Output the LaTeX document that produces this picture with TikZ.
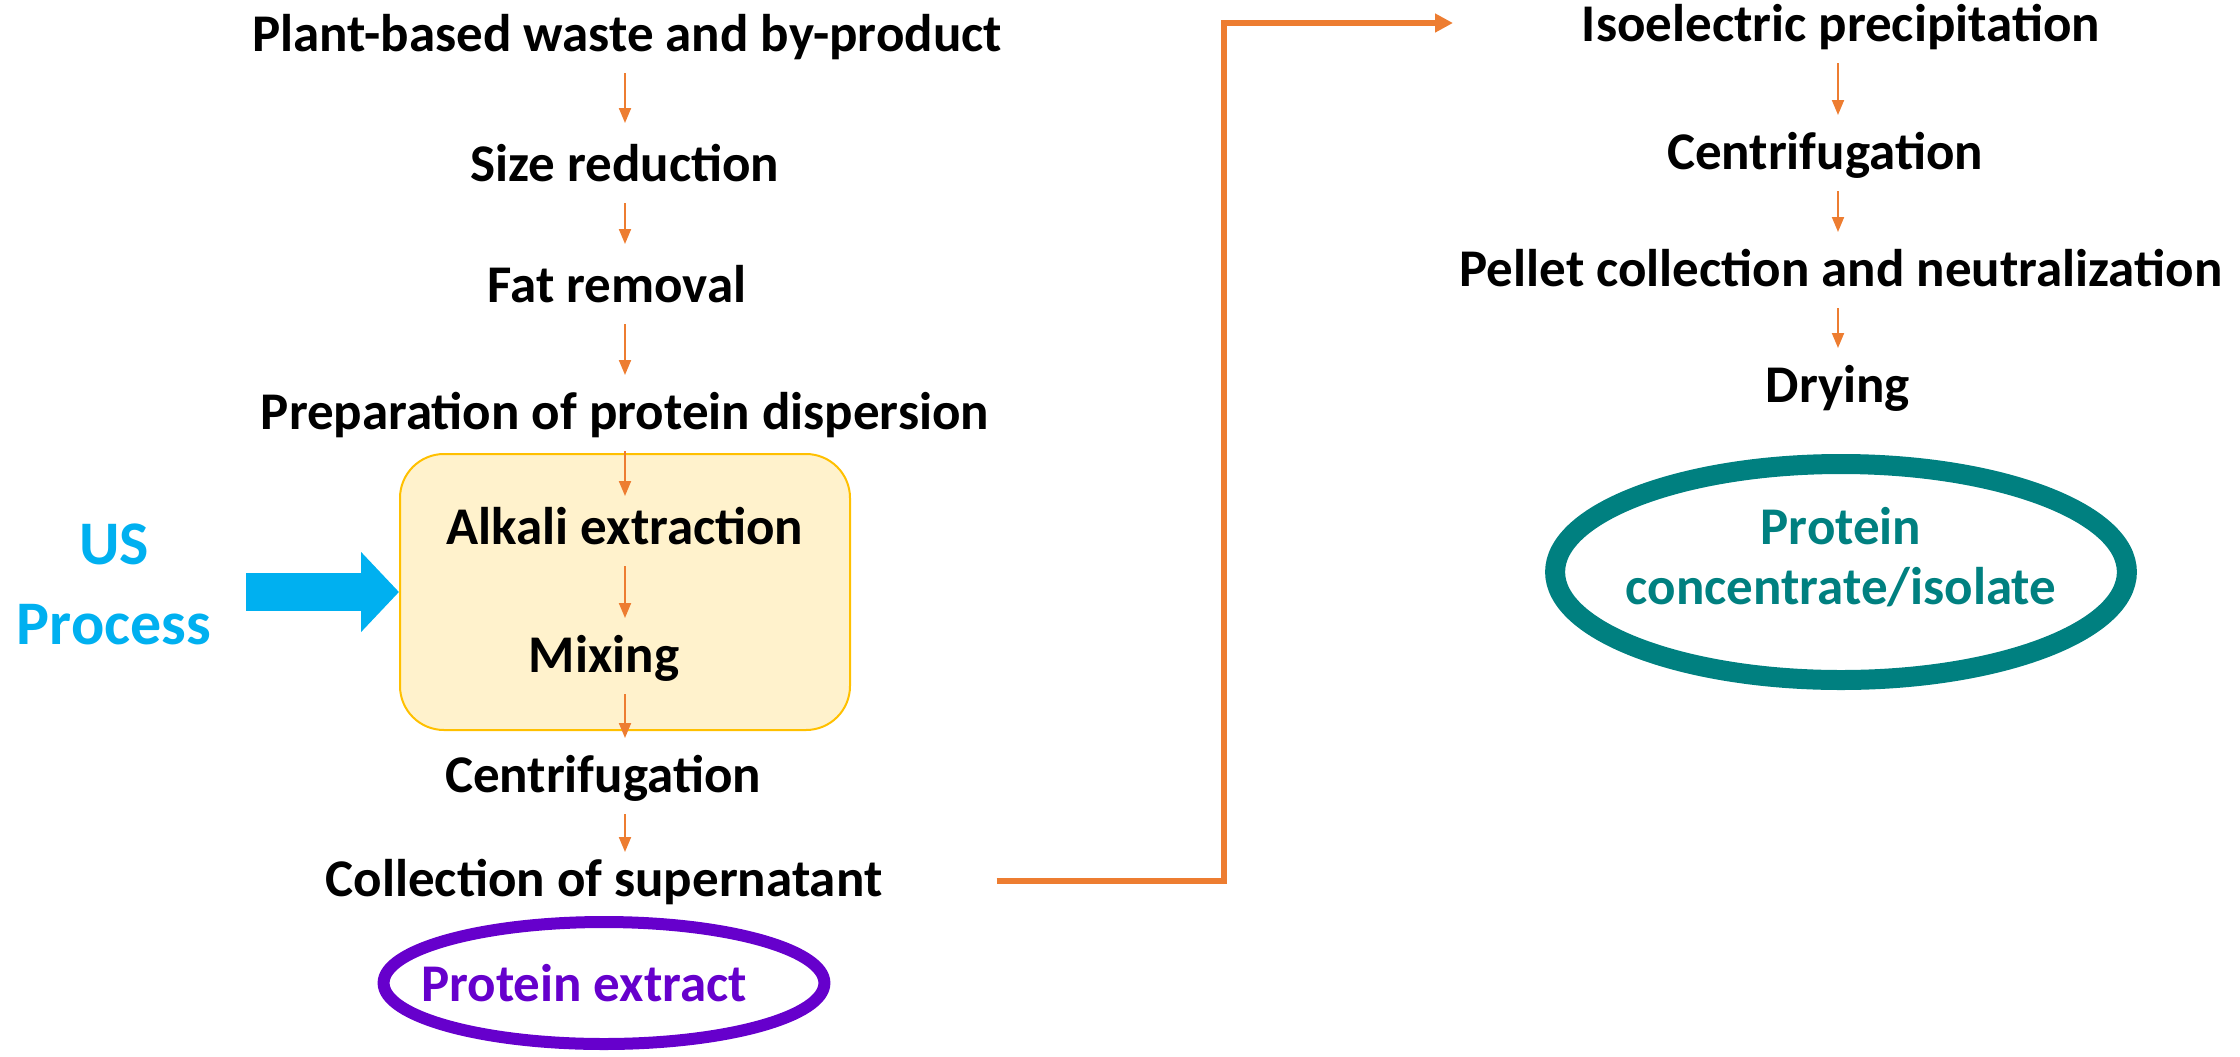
\documentclass[tikz,border=0pt]{standalone}
\usepackage{fontspec}
\setmainfont{Carlito}
\usetikzlibrary{shapes.geometric, arrows.meta, positioning, backgrounds, calc}
\definecolor{colorArrow}{HTML}{ED7D31}
\definecolor{colorBoxFill}{HTML}{FFF2CC}
\definecolor{colorBoxLine}{HTML}{FFC000}
\definecolor{colorUS}{HTML}{00B0F0}
\definecolor{colorExtract}{HTML}{6600CC}
\definecolor{colorIsolate}{HTML}{008080}

\begin{document}
\begin{tikzpicture}[
        x=0.5pt, y=-0.5pt,
        p/.style={font=\bfseries\fontsize{26.5}{32}\selectfont, align=center,
            inner sep=2pt, text height=21pt, text depth=5.6pt},
        fl/.style={-{Triangle[length=7.5pt, width=6pt]}, colorArrow, line width=1pt,
            shorten <=3pt},
        link/.style={-{Triangle[length=9pt, width=9pt]}, colorArrow, line width=3pt},
        usbox/.style={draw=colorBoxLine, fill=colorBoxFill, line width=1pt, rounded corners=22pt,
            minimum width=225pt, minimum height=138pt},
        usarrow/.style={-{Triangle[length=19pt, width=39pt]}, colorUS, line width=19pt},
        prod/.style={ellipse, font=\bfseries\fontsize{26.5}{30}\selectfont, align=center, inner sep=0pt}
    ]
        \useasboundingbox (0,0) rectangle (2240,1056);
        % left column
        \node[p] (pl) at (627,36) {Plant-based waste and by-product};
        \node[p] (sr) at (625,166) {Size reduction};
        \node[p] (fr) at (617,287) {Fat removal};
        \node[p] (pd) at (625,414) {Preparation of protein dispersion};
        \node[p] (ae) at (625,529) {Alkali extraction};
        \node[p] (mx) at (604,657) {Mixing};
        \node[p] (ce) at (603,777) {Centrifugation};
        \node[p] (cs) at (604,881) {Collection of supernatant};
        \node[prod, draw=colorExtract, line width=6pt, text=colorExtract, inner xsep=-13.5pt,
            minimum width=218pt, minimum height=61pt] (pe) at (604,983) {Protein extract\kern20pt};
        \begin{scope}[on background layer]
            \node[usbox] (box) at (625,592) {};
        \end{scope}
        \foreach \a/\b/\s in {pl/sr/6pt, sr/fr/6pt, fr/pd/4pt, pd/ae/1pt, ae/mx/4pt, mx/ce/4pt, ce/cs/-1pt}
            \draw[fl, shorten >=\s] (sr |- \a.south) -- (sr |- \b.north);
        % US
        \node[font=\bfseries\fontsize{31}{40}\selectfont, text=colorUS, align=center] (us) at (114,584) {US\\Process};
        \draw[usarrow] ([xshift=14pt]us.east |- box.west) -- (box.west);
        % right column
        \node[p] (ip) at (1841,26) {Isoelectric precipitation};
        \node[p] (rc) at (1825,154) {Centrifugation};
        \node[p] (pn) at (1841,271) {Pellet collection and neutralization};
        \node[p] (dr) at (1838,387) {Drying};
        \foreach \a/\b in {ip/rc, rc/pn, pn/dr}
            \draw[fl, shorten >=4pt] (dr |- \a.south) -- (dr |- \b.north);
        \node[prod, draw=colorIsolate, line width=10pt, text=colorIsolate, inner xsep=-6.5pt,
            minimum width=281pt, minimum height=108pt] (pc) at (1841,572)
            {Protein\\concentrate/isolate\rule[-16pt]{0pt}{0pt}};
        % link to second column
        \coordinate (turn) at (1224,23);
        \coordinate (tip) at (1453,23);
        \draw[link] ([xshift=55pt]cs.east) -| (turn) -- (tip);
    \end{tikzpicture}
\end{document}
